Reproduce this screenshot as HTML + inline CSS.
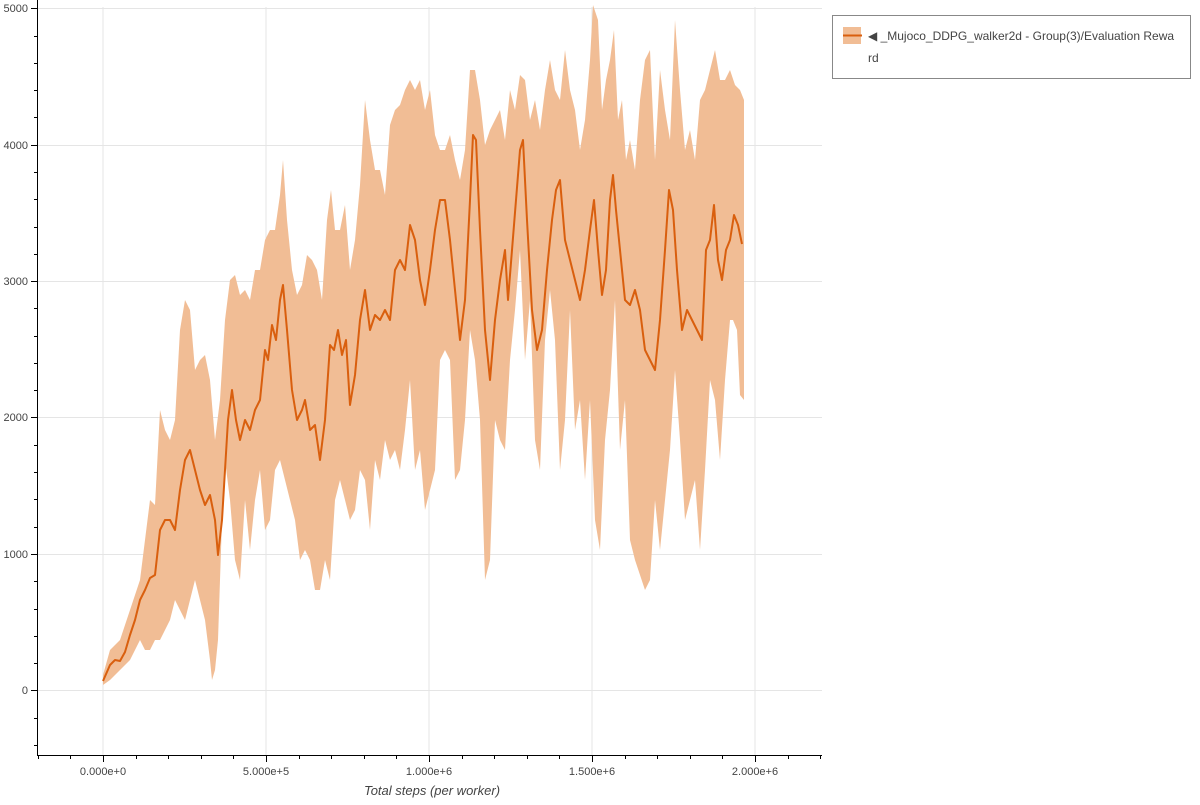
<!DOCTYPE html>
<html><head><meta charset="utf-8"><style>
body{margin:0;background:#fff;width:1200px;height:800px;overflow:hidden;font-family:"Liberation Sans",sans-serif}
</style></head><body>
<svg width="1200" height="800" xmlns="http://www.w3.org/2000/svg" font-family="Liberation Sans, sans-serif">
<g stroke="#e5e5e5" stroke-width="1">
<line x1="103" y1="7" x2="103" y2="755"/><line x1="266" y1="7" x2="266" y2="755"/><line x1="429" y1="7" x2="429" y2="755"/><line x1="592" y1="7" x2="592" y2="755"/><line x1="755" y1="7" x2="755" y2="755"/>
<line x1="38" y1="690.5" x2="822" y2="690.5"/><line x1="38" y1="554.5" x2="822" y2="554.5"/><line x1="38" y1="417.5" x2="822" y2="417.5"/><line x1="38" y1="281.5" x2="822" y2="281.5"/><line x1="38" y1="145.5" x2="822" y2="145.5"/><line x1="38" y1="8.5" x2="822" y2="8.5"/>
</g>
<polygon fill="#f1bd95" points="103,675 110,650 115,645 120,640 130,610 140,580 150,500 155,505 160,410 165,430 170,440 175,420 180,330 185,300 190,310 195,370 200,360 205,355 210,380 215,440 220,400 225,320 230,280 235,275 240,295 245,290 250,300 255,270 260,270 265,240 270,230 275,230 280,195 283,160 287,220 292,270 297,295 302,285 307,255 312,260 317,270 322,300 327,220 331,190 335,230 340,230 345,205 350,270 355,240 360,185 365,100 370,140 375,170 380,170 385,195 390,125 395,110 400,105 405,90 410,80 415,90 420,80 425,110 430,90 435,135 440,150 445,150 450,135 455,160 460,180 465,150 470,70 475,70 480,100 485,145 490,130 495,120 500,110 505,140 510,90 515,110 520,75 525,80 530,120 535,100 540,130 545,90 550,60 555,90 560,100 565,50 570,90 575,110 580,150 585,120 590,60 593,5 598,20 602,110 606,80 610,60 614,30 618,120 622,100 626,160 630,140 635,170 640,100 645,60 650,50 655,160 660,70 665,110 670,140 675,20 680,90 685,150 690,130 695,160 700,100 705,90 710,70 715,50 720,80 725,80 730,70 735,85 740,90 744,100 744,400 740,395 737,330 733,320 730,320 725,380 720,460 715,400 710,380 705,470 700,550 695,480 690,500 685,520 680,440 675,370 670,450 665,500 660,550 655,500 650,580 645,590 640,575 635,560 630,540 625,400 620,450 615,300 610,390 605,440 600,550 595,520 590,400 585,480 580,400 575,430 570,310 565,420 560,470 555,340 550,290 545,340 540,470 535,440 530,300 525,360 520,250 515,310 510,360 505,450 500,440 495,420 490,560 485,580 480,420 475,360 470,330 465,420 460,470 455,480 450,360 445,350 440,360 435,470 430,490 425,510 420,450 415,470 410,380 405,430 400,470 395,450 390,460 385,440 380,480 375,460 370,530 365,480 360,470 355,510 350,520 345,500 340,480 335,500 330,580 325,560 320,590 315,590 310,560 305,550 300,560 295,520 290,500 285,480 280,460 275,470 270,520 265,530 260,470 255,500 250,550 245,500 240,580 235,560 230,500 225,460 222,520 218,640 215,670 212,680 210,660 205,620 200,600 195,580 190,600 185,620 180,610 175,600 170,620 165,630 160,640 155,640 150,650 145,650 140,640 135,650 130,660 125,665 120,670 115,675 110,680 103,685"/>
<polyline fill="none" stroke="#d95f0e" stroke-width="2" stroke-linejoin="round" points="103,681 110,665 115,660 120,661 125,652 130,635 135,620 140,600 145,590 150,578 155,575 160,530 165,520 170,520 175,530 180,490 185,460 190,450 195,470 200,490 205,505 210,495 215,520 218,555 222,520 225,470 228,420 232,390 236,420 240,440 245,420 250,430 255,410 260,400 265,350 268,360 272,325 276,340 280,300 283,285 287,330 292,390 297,420 302,410 305,400 310,430 315,425 320,460 325,420 330,345 334,350 338,330 342,355 346,340 350,405 355,375 360,320 365,290 370,330 375,315 380,320 385,310 390,320 395,270 400,260 405,270 410,225 415,240 420,280 425,305 430,270 435,230 440,200 445,200 450,240 455,290 460,340 465,300 470,200 473,135 476,140 480,230 485,330 490,380 495,320 500,280 505,250 508,300 512,250 516,200 520,150 523,140 527,220 532,310 537,350 542,330 547,270 552,220 556,190 560,180 565,240 570,260 575,280 580,300 585,270 590,230 594,200 598,250 602,295 606,270 610,200 613,175 616,210 620,250 625,300 630,305 635,290 640,310 645,350 650,360 655,370 660,320 665,250 669,190 673,210 677,270 682,330 687,310 692,320 697,330 702,340 706,250 710,240 714,205 718,260 722,280 726,250 730,240 734,215 738,225 742,244"/>
<g stroke="#000" stroke-width="1">
<line x1="37.5" y1="0" x2="37.5" y2="756"/><line x1="37" y1="755.5" x2="822" y2="755.5"/>
<line x1="31" y1="690.5" x2="37" y2="690.5"/><line x1="31" y1="554.5" x2="37" y2="554.5"/><line x1="31" y1="417.5" x2="37" y2="417.5"/><line x1="31" y1="281.5" x2="37" y2="281.5"/><line x1="31" y1="145.5" x2="37" y2="145.5"/><line x1="31" y1="8.5" x2="37" y2="8.5"/>
<line x1="103.5" y1="756" x2="103.5" y2="762"/><line x1="266.5" y1="756" x2="266.5" y2="762"/><line x1="429.5" y1="756" x2="429.5" y2="762"/><line x1="592.5" y1="756" x2="592.5" y2="762"/><line x1="755.5" y1="756" x2="755.5" y2="762"/>
</g>
<g stroke="#000" stroke-width="1" id="minor">
<line x1="38.5" y1="756" x2="38.5" y2="759"/><line x1="70.5" y1="756" x2="70.5" y2="759"/><line x1="136.5" y1="756" x2="136.5" y2="759"/><line x1="168.5" y1="756" x2="168.5" y2="759"/><line x1="201.5" y1="756" x2="201.5" y2="759"/><line x1="233.5" y1="756" x2="233.5" y2="759"/><line x1="299.5" y1="756" x2="299.5" y2="759"/><line x1="331.5" y1="756" x2="331.5" y2="759"/><line x1="364.5" y1="756" x2="364.5" y2="759"/><line x1="396.5" y1="756" x2="396.5" y2="759"/><line x1="462.5" y1="756" x2="462.5" y2="759"/><line x1="494.5" y1="756" x2="494.5" y2="759"/><line x1="527.5" y1="756" x2="527.5" y2="759"/><line x1="559.5" y1="756" x2="559.5" y2="759"/><line x1="625.5" y1="756" x2="625.5" y2="759"/><line x1="657.5" y1="756" x2="657.5" y2="759"/><line x1="690.5" y1="756" x2="690.5" y2="759"/><line x1="722.5" y1="756" x2="722.5" y2="759"/><line x1="788.5" y1="756" x2="788.5" y2="759"/><line x1="820.5" y1="756" x2="820.5" y2="759"/>
<line x1="34" y1="745.5" x2="37" y2="745.5"/><line x1="34" y1="718.5" x2="37" y2="718.5"/><line x1="34" y1="663.5" x2="37" y2="663.5"/><line x1="34" y1="636.5" x2="37" y2="636.5"/><line x1="34" y1="609.5" x2="37" y2="609.5"/><line x1="34" y1="581.5" x2="37" y2="581.5"/><line x1="34" y1="527.5" x2="37" y2="527.5"/><line x1="34" y1="499.5" x2="37" y2="499.5"/><line x1="34" y1="472.5" x2="37" y2="472.5"/><line x1="34" y1="445.5" x2="37" y2="445.5"/><line x1="34" y1="390.5" x2="37" y2="390.5"/><line x1="34" y1="363.5" x2="37" y2="363.5"/><line x1="34" y1="336.5" x2="37" y2="336.5"/><line x1="34" y1="308.5" x2="37" y2="308.5"/><line x1="34" y1="254.5" x2="37" y2="254.5"/><line x1="34" y1="227.5" x2="37" y2="227.5"/><line x1="34" y1="199.5" x2="37" y2="199.5"/><line x1="34" y1="172.5" x2="37" y2="172.5"/><line x1="34" y1="117.5" x2="37" y2="117.5"/><line x1="34" y1="90.5" x2="37" y2="90.5"/><line x1="34" y1="63.5" x2="37" y2="63.5"/><line x1="34" y1="36.5" x2="37" y2="36.5"/>
</g>
<g font-size="11" fill="#444" text-anchor="end">
<text x="28" y="694">0</text><text x="28" y="558">1000</text><text x="28" y="421">2000</text><text x="28" y="285">3000</text><text x="28" y="149">4000</text><text x="28" y="12">5000</text>
</g>
<g font-size="11" fill="#444" text-anchor="middle">
<text x="103" y="775">0.000e+0</text><text x="266" y="775">5.000e+5</text><text x="429" y="775">1.000e+6</text><text x="592" y="775">1.500e+6</text><text x="755" y="775">2.000e+6</text>
</g>
<text x="432" y="795" font-size="13" font-style="italic" fill="#444" text-anchor="middle">Total steps (per worker)</text>
<rect x="832.5" y="15.5" width="358" height="63" fill="#fff" stroke="#888"/>
<rect x="843" y="27" width="18" height="17" fill="#f1bd95"/>
<line x1="843" y1="35.5" x2="862" y2="35.5" stroke="#d95f0e" stroke-width="2"/>
<text x="868" y="40" font-size="12" fill="#444">◀ _Mujoco_DDPG_walker2d - Group(3)/Evaluation Rewa</text>
<text x="868" y="62" font-size="12" fill="#444">rd</text>
</svg>
</body></html>
